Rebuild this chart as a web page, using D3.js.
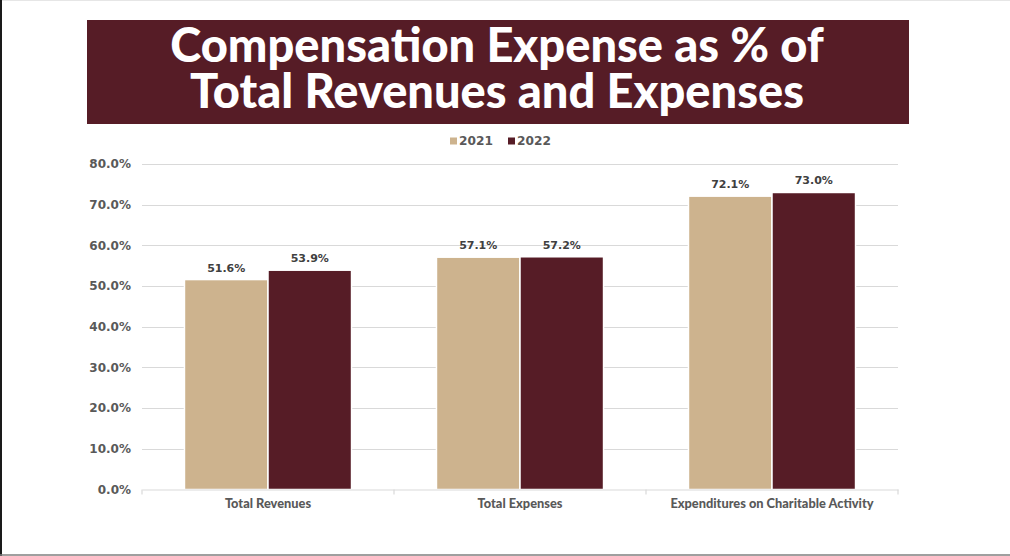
<!DOCTYPE html>
<html>
<head>
<meta charset="utf-8">
<script src="https://cdn.jsdelivr.net/npm/d3@7"></script>
<style>
  html, body { margin: 0; padding: 0; background: #ffffff; }
  svg { display: block; }
</style>
</head>
<body>
<svg id="chart" width="1010" height="556"></svg>
<script>
// Chart data
const categories = ["Total Revenues", "Total Expenses", "Expenditures on Charitable Activity"];
const seriesNames = ["2021", "2022"];
const values2021 = [51.6, 57.1, 72.1];
const values2022 = [53.9, 57.2, 73.0];
const yTicks = [0, 10, 20, 30, 40, 50, 60, 70, 80];
const titleLines = ["Compensation Expense as % of", "Total Revenues and Expenses"];

const colors = { "2021": "#CDB38E", "2022": "#561C26" };
const titleBg = "#561C26";
const textGrey = "#595959";
const labelGrey = "#404040";
const wideFont = "'DejaVu Sans', Verdana, sans-serif";
const textFont = "Lato, 'Open Sans', sans-serif";

const svg = d3.select("#chart");
const W = 1010, H = 556;

// slide frame
svg.append("line").attr("x1", 0).attr("x2", W).attr("y1", 0.5).attr("y2", 0.5)
  .attr("stroke", "#e6e6e6").attr("stroke-width", 1);
svg.append("line").attr("x1", 1).attr("x2", 1).attr("y1", 0).attr("y2", H)
  .attr("stroke", "#1a1a1a").attr("stroke-width", 2);
svg.append("line").attr("x1", 0).attr("x2", W).attr("y1", 555).attr("y2", 555)
  .attr("stroke", "#7f7f7f").attr("stroke-width", 1.5);

// title banner, one text element per line
svg.append("rect").attr("x", 87).attr("y", 20).attr("width", 822).attr("height", 104)
  .attr("fill", titleBg);
svg.append("g").selectAll("text").data(titleLines).join("text")
  .attr("x", 497)
  .attr("y", (d, i) => 62 + i * 46)
  .attr("text-anchor", "middle")
  .attr("fill", "#ffffff")
  .attr("font-family", textFont)
  .attr("font-weight", 900)
  .attr("font-size", 47)
  .text(d => d);

// scales
const margin = { left: 142, right: 898, top: 164, bottom: 489.5 };
const x0 = d3.scaleBand().domain(categories).range([margin.left, margin.right]).padding(0);
const groupWidth = x0.bandwidth() * 0.663;
const x1 = d3.scaleBand().domain(seriesNames).range([0, groupWidth]).padding(0);
const y = d3.scaleLinear().domain([0, 80]).range([margin.bottom, margin.top]);

// gridlines
svg.append("g").selectAll("line").data(yTicks.filter(t => t > 0)).join("line")
  .attr("x1", margin.left).attr("x2", margin.right)
  .attr("y1", d => Math.round(y(d)) + 0.5).attr("y2", d => Math.round(y(d)) + 0.5)
  .attr("stroke", "#d9d9d9").attr("stroke-width", 1);

// y axis labels
const yAxis = d3.axisLeft(y).tickValues(yTicks).tickSize(0).tickPadding(11)
  .tickFormat(d => d.toFixed(1) + "%");
const gy = svg.append("g").attr("transform", `translate(${margin.left},0)`).call(yAxis);
gy.select(".domain").remove();
gy.selectAll("text")
  .attr("fill", textGrey)
  .attr("font-family", wideFont)
  .attr("font-weight", 700)
  .attr("font-size", 12);

// bars
const rows = categories.map((c, i) => ({ cat: c, vals: [
  { key: "2021", v: values2021[i] },
  { key: "2022", v: values2022[i] }
]}));

const groups = svg.append("g").selectAll("g").data(rows).join("g")
  .attr("transform", d => `translate(${x0(d.cat) + (x0.bandwidth() - groupWidth) / 2},0)`);

groups.selectAll("rect").data(d => d.vals).join("rect")
  .attr("x", d => x1(d.key))
  .attr("y", d => y(d.v))
  .attr("width", x1.bandwidth())
  .attr("height", d => y(0) - y(d.v))
  .attr("fill", d => colors[d.key])
  .attr("stroke", "#ffffff")
  .attr("stroke-width", 1.5);

groups.selectAll("text").data(d => d.vals).join("text")
  .attr("x", d => x1(d.key) + x1.bandwidth() / 2)
  .attr("y", d => y(d.v) - 8)
  .attr("text-anchor", "middle")
  .attr("fill", labelGrey)
  .attr("font-family", wideFont)
  .attr("font-weight", 700)
  .attr("font-size", 11)
  .text(d => d.v.toFixed(1) + "%");

// x axis
const xAxis = d3.axisBottom(x0).tickSize(0).tickPadding(9.5);
const gx = svg.append("g").attr("transform", `translate(0,${margin.bottom})`).call(xAxis);
gx.select(".domain").attr("stroke", "#d9d9d9").attr("stroke-width", 1.2);
gx.selectAll("text")
  .attr("fill", textGrey)
  .attr("font-family", textFont)
  .attr("font-weight", 900)
  .attr("font-size", 12.8);
// category separator ticks
const boundaries = categories.map(c => x0(c)).concat([margin.right]);
svg.append("g").selectAll("line").data(boundaries).join("line")
  .attr("x1", d => d).attr("x2", d => d)
  .attr("y1", margin.bottom).attr("y2", margin.bottom + 5)
  .attr("stroke", "#d9d9d9").attr("stroke-width", 1.2);

// legend
const legendItems = [{ key: "2021", x: 450 }, { key: "2022", x: 508 }];
const legend = svg.append("g").selectAll("g").data(legendItems).join("g")
  .attr("transform", d => `translate(${d.x},141)`);
legend.append("rect").attr("x", 0).attr("y", -3.5).attr("width", 7).attr("height", 7)
  .attr("fill", d => colors[d.key]);
legend.append("text").attr("x", 9).attr("y", 0).attr("dy", "0.36em")
  .attr("fill", textGrey)
  .attr("font-family", wideFont)
  .attr("font-weight", 700)
  .attr("font-size", 12.2)
  .text(d => d.key);
</script>
</body>
</html>
